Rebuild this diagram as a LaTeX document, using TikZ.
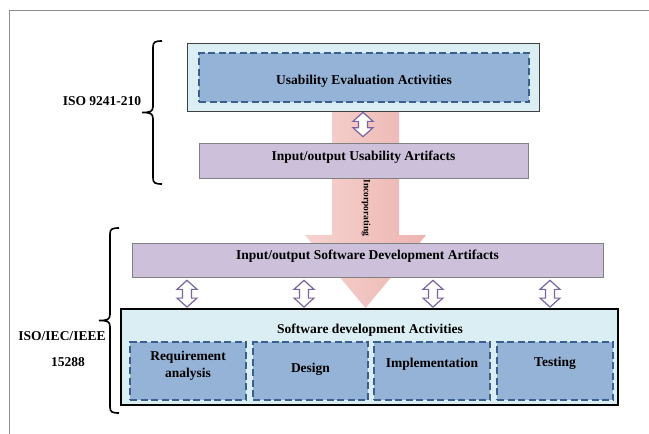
\documentclass[tikz,border=0pt]{standalone}
\usepackage{fontspec}
\setmainfont{Liberation Serif}
\usetikzlibrary{calc,backgrounds}

\definecolor{boxcyan}{HTML}{DBEEF4}
\definecolor{boxblue}{HTML}{95B3D7}
\definecolor{dashblue}{HTML}{3A5F8E}
\definecolor{boxlilac}{HTML}{CCC0DA}
\definecolor{arrowlilac}{HTML}{7A65A0}
\definecolor{pinklight}{HTML}{F6D3CF}
\definecolor{pinkdark}{HTML}{ECB4B1}

% curly brace: line x, top y, bottom y
\newcommand{\isobrace}[3]{%
  \draw[line width=1.6pt] (#1+9,#2) .. controls (#1+2,#2) and (#1,#2+1) .. (#1,#2+6)
    -- (#1,{(#2+#3)/2-6}) .. controls (#1,{(#2+#3)/2-1}) and (#1-3,{(#2+#3)/2}) .. (#1-11,{(#2+#3)/2})
    .. controls (#1-3,{(#2+#3)/2}) and (#1,{(#2+#3)/2+1}) .. (#1,{(#2+#3)/2+6})
    -- (#1,#3-6) .. controls (#1,#3-1) and (#1+2,#3) .. (#1+9,#3);}

\begin{document}
\begin{tikzpicture}[x=1pt, y=-1pt,
  font=\fontsize{13.5}{17}\selectfont\bfseries,
  every node/.style={text=black, inner sep=0pt},
  actbox/.style={draw=black!75, fill=boxcyan, line width=0.7pt},
  dashbox/.style={draw=dashblue, fill=boxblue, dash pattern=on 7pt off 3.5pt,
    line width=1.3pt, minimum height=58pt},
  artbox/.style={draw=black!50, fill=boxlilac, line width=0.7pt},
  dblarrow/.style={draw=arrowlilac, fill=white, line width=1.2pt,
    to path={let \p1=(\tikztostart), \p2=(\tikztotarget) in
      (\x1,\y1) -- (\x1-10pt,\y1-9pt) -- (\x1-4.5pt,\y1-9pt) -- (\x1-4.5pt,\y2+9pt)
      -- (\x1-10pt,\y2+9pt) -- (\x1,\y2) -- (\x1+10pt,\y2+9pt) -- (\x1+4.5pt,\y2+9pt)
      -- (\x1+4.5pt,\y1-9pt) -- (\x1+10pt,\y1-9pt) -- cycle}},
  bigarrow/.style={left color=pinklight, right color=pinkdark,
    to path={let \p1=(\tikztostart), \p2=(\tikztotarget) in
      (\x1-33.5pt,\y1) -- (\x1-33.5pt,\y2+73pt) -- (\x1-60.5pt,\y2+73pt) -- (\x1,\y2)
      -- (\x1+60.5pt,\y2+73pt) -- (\x1+33.5pt,\y2+73pt) -- (\x1+33.5pt,\y1) -- cycle}}]

\useasboundingbox (0,0) rectangle (649,434);
\draw[black!45, line width=0.8pt] (9,434) -- (9,10) -- (649,10);

% usability part
\node[actbox, minimum width=352pt, minimum height=68pt] (uebox) at (363,77) {};
\node[dashbox, minimum width=330pt, minimum height=49pt,
  label={[yshift=-4pt]center:Usability Evaluation Activities}] (ueact) at (364,77.5) {};
\node[artbox, minimum width=329pt, minimum height=35pt,
  label={[yshift=3pt]center:Input/output Usability Artifacts}] (uaart) at (363.5,160.5) {};

% software development part
\node[artbox, minimum width=471pt, minimum height=34pt,
  label={[yshift=3.5pt]center:Input/output Software Development Artifacts}] (sdart) at (367.5,260) {};
\node[actbox, draw=black, line width=1.8pt, minimum width=497pt, minimum height=96pt] (sdbox) at (369.5,357) {};
\node (sdtitle) at (370,330) {Software development Activities};
\node[dashbox, minimum width=116pt,
  label={[yshift=5pt, align=center]center:Requirement\\analysis}] (req) at (188,371) {};
\node[dashbox, minimum width=115pt, label={[yshift=2pt]center:Design}] (des) at (310.5,371) {};
\node[dashbox, minimum width=116pt, label={[yshift=6.5pt]center:Implementation}] (imp) at (432,371) {};
\node[dashbox, minimum width=116pt, label={[yshift=7.5pt]center:Testing}] (tst) at (555,371) {};

% standards
\node (iso9241) at (102,101) {ISO 9241-210};
\node (isoieee) at (62,336) {ISO/IEC/IEEE};
\node (iso15288) at (68,362) {15288};
\isobrace{153}{41}{184}
\isobrace{110}{228}{413}

% arrows
\begin{scope}[on background layer]
\path[bigarrow] ([xshift=2.5pt]uebox.south) to (sdbox.north);
\end{scope}
\node[rotate=-90, font=\fontsize{9.5}{11}\selectfont\bfseries] (incorp) at (366,208) {Incorporating};
\draw[dblarrow] ([yshift=-1pt]uebox.south) to ([yshift=6pt]uaart.north);
\foreach \b/\dx in {req/-1, des/-6.5, imp/1, tst/-5}
  \draw[dblarrow] ($(sdart.south -| \b.north)+(\dx,3)$) to ($(sdbox.north -| \b.north)+(\dx,-1)$);
\end{tikzpicture}
\end{document}
